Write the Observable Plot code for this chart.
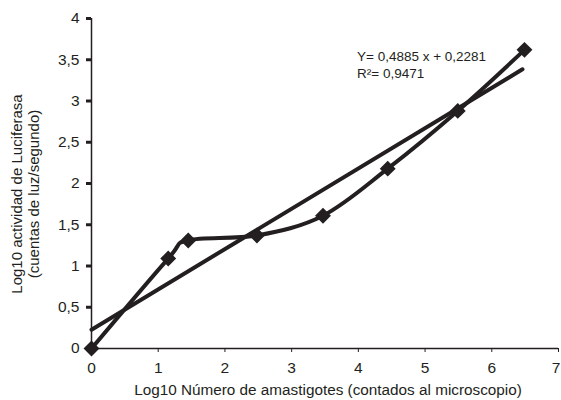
<!DOCTYPE html>
<html>
<head>
<meta charset="utf-8">
<script src="https://cdn.jsdelivr.net/npm/d3@7"></script>
<script src="https://cdn.jsdelivr.net/npm/@observablehq/plot@0.6"></script>
<style>
  html, body { margin: 0; padding: 0; background: #fff; }
  #chart svg { display: block; }
</style>
</head>
<body>
<div id="chart"></div>
<script>
// Data
const xLog = [0, 1.15, 1.45, 2.48, 3.47, 4.44, 5.49, 6.49];
const yLog = [0, 1.09, 1.31, 1.37, 1.61, 2.18, 2.88, 3.62];
const trendSlope = 0.4885;
const trendIntercept = 0.2281;
const trendRange = [0, 6.46];
const xTicks = [0, 1, 2, 3, 4, 5, 6, 7];
const yTicks = [0, 0.5, 1, 1.5, 2, 2.5, 3, 3.5, 4];
const eqLines = ["Y= 0,4885 x + 0,2281", "R²= 0,9471"];
const xTitle = "Log10 Número de amastigotes (contados al microscopio)";
const yTitleLines = ["Log10 actividad de Luciferasa", "(cuentas de luz/segundo)"];

const points = xLog.map((x, i) => ({x, y: yLog[i]}));
const trend = trendRange.map(x => ({x, y: trendSlope * x + trendIntercept}));
const fmt = d => String(d).replace(".", ",");
const ink = "#231f20";

const plot = Plot.plot({
  width: 561,
  height: 400,
  marginLeft: 91,
  marginRight: 3,
  marginTop: 18,
  marginBottom: 52,
  style: {fontFamily: "'Liberation Sans', Arial, sans-serif", fontSize: "15px", color: ink, background: "#fff"},
  x: {domain: [0, 7], label: null},
  y: {domain: [0, 4], label: null},
  marks: [
    Plot.axisX({ticks: xTicks, tickFormat: fmt, tickSize: 4, tickPadding: 9, label: null, fontSize: 15.5}),
    Plot.axisY({ticks: yTicks, tickFormat: fmt, tickSize: 5, tickPadding: 7, label: null, fontSize: 15.5, strokeWidth: 3}),
    Plot.ruleY([0], {stroke: ink, strokeWidth: 1.5}),
    Plot.ruleX([0], {stroke: ink, strokeWidth: 1.5}),
    Plot.line(trend, {x: "x", y: "y", stroke: ink, strokeWidth: 4}),
    Plot.line(points, {x: "x", y: "y", stroke: ink, strokeWidth: 4, curve: "cardinal"}),
    Plot.dot(points, {x: "x", y: "y", symbol: "square", rotate: 45, r: 5.5, fill: ink, stroke: ink}),
    Plot.text([eqLines.join("\n")], {x: 3.98, y: 3.62, text: d => d, textAnchor: "start", lineAnchor: "top", fontSize: 13.5, lineHeight: 1.2, fill: ink, fontFamily: "'Liberation Sans Narrow', 'Arial Narrow', 'Liberation Sans', sans-serif"})
  ]
});

const svg = d3.select(plot);
// keep the last x tick label ("7") inside the picture
svg.selectAll("text")
  .filter(function() { return this.textContent === "7"; })
  .each(function() {
    const t = d3.select(this);
    const old = t.attr("transform") || "";
    t.attr("transform", old + " translate(-2.5,0)");
  });
svg.append("text")
  .attr("x", 328).attr("y", 395)
  .attr("text-anchor", "middle")
  .attr("font-size", 15.3)
  .attr("fill", ink)
  .text(xTitle);
const yt = svg.append("text")
  .attr("transform", "translate(22,194) rotate(-90)")
  .attr("text-anchor", "middle")
  .attr("font-size", 15)
  .attr("fill", ink);
yt.append("tspan").attr("x", 0).attr("dy", 0).text(yTitleLines[0]);
yt.append("tspan").attr("x", 0).attr("dy", 16.5).text(yTitleLines[1]);

document.getElementById("chart").appendChild(plot);
</script>
</body>
</html>
